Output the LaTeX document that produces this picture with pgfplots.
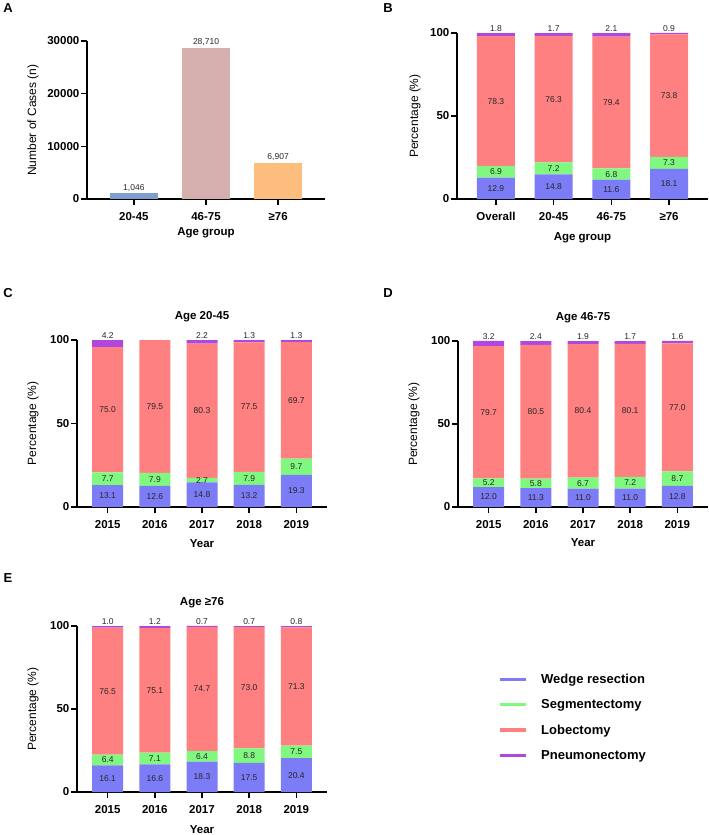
\documentclass[border=0pt]{standalone}
\usepackage{pgfplots}
\pgfplotsset{compat=1.18}
\usepackage{pgfplotstable}
\usepackage{fontspec}
\setmainfont{Liberation Sans}

\definecolor{wedge}{HTML}{7C7CF6}
\definecolor{segm}{HTML}{80F880}
\definecolor{lobe}{HTML}{FF8080}
\definecolor{pneu}{HTML}{B048E0}
\definecolor{grpA}{HTML}{7F9ECE}
\definecolor{grpB}{HTML}{D5AEAE}
\definecolor{grpC}{HTML}{FDBE7D}

\newcommand\ticksize{\bfseries\fontsize{11.5}{13}\selectfont}
\newcommand\valsize{\fontsize{8.5}{10}\selectfont}

% Surgical procedure shares (%) by age group
\pgfplotstableread{
x w s l p
0 12.9 6.9 78.3 1.8
1 14.8 7.2 76.3 1.7
2 11.6 6.8 79.4 2.1
3 18.1 7.3 73.8 0.9
}\byage

% Age 20-45, by year
\pgfplotstableread{
x w s l p
0 13.1 7.7 75.0 4.2
1 12.6 7.9 79.5 0
2 14.8 2.7 80.3 2.2
3 13.2 7.9 77.5 1.3
4 19.3 9.7 69.7 1.3
}\ageC

% Age 46-75, by year
\pgfplotstableread{
x w s l p
0 12.0 5.2 79.7 3.2
1 11.3 5.8 80.5 2.4
2 11.0 6.7 80.4 1.9
3 11.0 7.2 80.1 1.7
4 12.8 8.7 77.0 1.6
}\ageD

% Age >=76, by year
\pgfplotstableread{
x w s l p
0 16.1 6.4 76.5 1.0
1 16.6 7.1 75.1 1.2
2 18.3 6.4 74.7 0.7
3 17.5 8.8 73.0 0.7
4 20.4 7.5 71.3 0.8
}\ageE

\pgfplotsset{
  base/.style={
    scale only axis, anchor=south west, clip=false,
    axis lines=left, axis line style={-, line width=1.6pt},
    tick align=outside, major tick length=6pt,
    every tick/.style={black, line width=1.6pt},
    tick label style={font=\ticksize},
    yticklabel style={inner sep=1.5pt},
    xticklabel style={yshift=-4pt},
    /pgf/number format/assume math mode=true,
    ymin=0, enlargelimits=false,
    xlabel style={font=\bfseries\fontsize{11.5}{13}\selectfont, anchor=center},
    ylabel style={font=\fontsize{12}{14}\selectfont, anchor=center},
    title style={font=\bfseries\fontsize{11.5}{13}\selectfont, anchor=center},
  },
  pct/.style={
    base, ybar stacked, ymax=100, ytick={0,50,100},
    ylabel={Percentage (\%)}, height=166pt, width=250pt,
  },
  years/.style={
    pct, bar width=31pt, xmin=-0.65, xmax=4.65,
    xtick={0,...,4}, xticklabels={2015,2016,2017,2018,2019},
    xlabel={Year},
    ylabel style={at={(axis description cs:-0.176,0.5)}},
    title style={at={(axis description cs:0.5,1.102)}},
  },
  % value in the middle of its own segment
  seglabel/.style={
    visualization depends on={\thisrow{#1}\as\segv},
    nodes near coords={\pgfmathprintnumber[fixed,fixed zerofill,precision=1]{\segv}},
    every node near coord/.style={font=\valsize, text=black!85, anchor=center},
  },
  % value set just above the top of the bar (1% = 1.66pt);
  % an empty segment shows a dash
  toplabel/.style={
    visualization depends on={\thisrow{#1}\as\segv},
    nodes near coords={\ifdim\segv pt>0pt \pgfmathprintnumber[fixed,fixed zerofill,precision=1]{\segv}\else -\fi},
    every node near coord/.style={font=\valsize, text=black!85,
      anchor=south, inner sep=1.5pt, yshift={0.83pt*\segv}},
  },
}

\begin{document}
\begin{tikzpicture}
\path[use as bounding box] (0pt,0pt) rectangle (709pt,-835pt);

\begin{scope}[every node/.style={font=\bfseries\fontsize{13}{15}\selectfont}]
\node at (8pt,-8.5pt) {A};
\node at (388pt,-8.5pt) {B};
\node at (8pt,-293pt) {C};
\node at (388pt,-293pt) {D};
\node at (8pt,-578pt) {E};
\end{scope}

% A: number of cases
\begin{axis}[base, at={(87pt,-199pt)}, width=238pt, height=158pt,
  ybar, bar width=48pt, xmin=-0.65, xmax=2.65,
  ymax=30000, ytick={0,10000,20000,30000}, scaled y ticks=false,
  yticklabel style={/pgf/number format/1000 sep={}},
  xtick={0,1,2}, xticklabels={20-45,46-75,≥76},
  xlabel={Age group}, ylabel={Number of Cases (n)},
  xlabel style={at={(axis description cs:0.5,-0.215)}},
  ylabel style={at={(axis description cs:-0.227,0.5)}},
  nodes near coords={\pgfmathprintnumber[1000 sep={,}]{\pgfplotspointmeta}},
  every node near coord/.style={font=\valsize, text=black!85, anchor=south, inner sep=2pt}]
\addplot[fill=grpA, draw=none, bar shift=0pt] coordinates {(0,1046)};
\addplot[fill=grpB, draw=none, bar shift=0pt] coordinates {(1,28710)};
\addplot[fill=grpC, draw=none, bar shift=0pt] coordinates {(2,6907)};
\end{axis}

% B: procedure by age group
\begin{axis}[pct, at={(457pt,-199pt)}, width=251pt,
  bar width=38pt, xmin=-0.675, xmax=3.675,
  xtick={0,...,3}, xticklabels={Overall,20-45,46-75,≥76},
  xlabel={Age group},
  xlabel style={at={(axis description cs:0.5,-0.235)}},
  ylabel style={at={(axis description cs:-0.167,0.5)}}]
\addplot[fill=wedge, draw=none, seglabel=w] table[x=x, y=w] \byage;
\addplot[fill=segm, draw=none, seglabel=s] table[x=x, y=s] \byage;
\addplot[fill=lobe, draw=none, seglabel=l] table[x=x, y=l] \byage;
\addplot[fill=pneu, draw=none, toplabel=p] table[x=x, y=p] \byage;
\end{axis}

% C: age 20-45
\begin{axis}[years, at={(77pt,-507pt)}, height=167pt,
  title={Age 20-45},
  xlabel style={at={(axis description cs:0.5,-0.222)}}]
\addplot[fill=wedge, draw=none, seglabel=w] table[x=x, y=w] \ageC;
\addplot[fill=segm, draw=none, seglabel=s] table[x=x, y=s] \ageC;
\addplot[fill=lobe, draw=none, seglabel=l] table[x=x, y=l] \ageC;
\addplot[fill=pneu, draw=none, toplabel=p] table[x=x, y=p] \ageC;
\end{axis}

% D: age 46-75
\begin{axis}[years, at={(458pt,-507pt)},
  title={Age 46-75},
  xlabel style={at={(axis description cs:0.5,-0.217)}}]
\addplot[fill=wedge, draw=none, seglabel=w] table[x=x, y=w] \ageD;
\addplot[fill=segm, draw=none, seglabel=s] table[x=x, y=s] \ageD;
\addplot[fill=lobe, draw=none, seglabel=l] table[x=x, y=l] \ageD;
\addplot[fill=pneu, draw=none, toplabel=p] table[x=x, y=p] \ageD;
\end{axis}

% E: age >=76, carries the shared legend
\begin{axis}[years, at={(77pt,-792pt)},
  title={Age ≥76},
  xlabel style={at={(axis description cs:0.5,-0.229)}},
  legend cell align=left,
  legend image code/.code={\fill[#1] (0pt,-1.6pt) rectangle (26pt,1.6pt); \path (39pt,0pt);},
  legend style={at={(axis description cs:1.692,0.726)}, anchor=north west,
    draw=none, fill=none, inner sep=0pt, row sep=10.7pt,
    font=\bfseries\fontsize{13}{15}\selectfont}]
\addplot[fill=wedge, draw=none, seglabel=w] table[x=x, y=w] \ageE;
\addlegendentry{Wedge resection}
\addplot[fill=segm, draw=none, seglabel=s] table[x=x, y=s] \ageE;
\addlegendentry{Segmentectomy}
\addplot[fill=lobe, draw=none, seglabel=l] table[x=x, y=l] \ageE;
\addlegendentry{Lobectomy}
\addplot[fill=pneu, draw=none, toplabel=p] table[x=x, y=p] \ageE;
\addlegendentry{Pneumonectomy}
\end{axis}
\end{tikzpicture}
\end{document}
